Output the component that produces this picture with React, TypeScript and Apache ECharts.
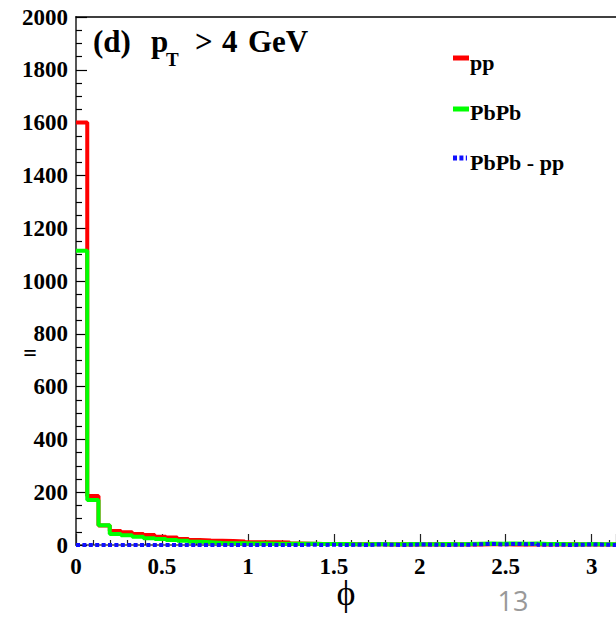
import React, { useEffect, useRef } from "react";
import * as echarts from "echarts";

// Azimuthal distribution, pT > 4 GeV: 48 bins over [0, pi]
const PHI_MAX = Math.PI;
const BIN_COUNT = 48;

const ppCounts = [
  1600, 186, 74, 53, 48, 42, 38, 31, 28, 23, 19, 17, 16, 15, 13, 10, 10, 10, 9, 6,
  5, 4, 4, 4, 3, 3, 3, 2, 3, 2, 2, 3, 2, 2, 3, 2, 3, 3, 2, 3, 2, 2, 2, 3, 2, 2, 2, 2,
];

const pbpbCounts = [
  1115, 170, 75, 42, 37, 31, 26, 23, 19, 16, 12, 10, 8, 7, 7, 6, 6, 5, 5, 5,
  5, 4, 4, 4, 3, 3, 4, 3, 3, 4, 3, 3, 4, 3, 4, 5, 6, 5, 6, 5, 6, 4, 4, 3, 3, 4, 3, 3,
];

// Difference histogram as drawn (negative bins sit on the frame floor)
const diffCounts = [
  0, 0, 0, 0, 0, 0, 0, 0, 0, 0, 0, 0, 0, 0, 0, 0, 0, 0, 0, 0,
  1, 0, 1, 0, 1, 0, 2, 1, 0, 1, 2, 1, 0, 1, 1, 3, 4, 2, 4, 3, 4, 1, 1, 0, 1, 2, 1, 0,
];

const xTickLabels = ["0", "0.5", "1", "1.5", "2", "2.5", "3"];

const SERIF = "Liberation Serif";

// Histogram outline: one point per lower bin edge plus the closing edge
function toSteps(counts: number[]): number[][] {
  const w = PHI_MAX / BIN_COUNT;
  const pts = counts.map((v, i) => [i * w, v]);
  pts.push([PHI_MAX, counts[counts.length - 1]]);
  return pts;
}

export default function App() {
  const ref = useRef<HTMLDivElement>(null);

  useEffect(() => {
    if (!ref.current) return;
    const chart = echarts.init(ref.current, null, { renderer: "svg" });

    const option = {
      animation: false,
      backgroundColor: "#ffffff",
      grid: { left: 76, top: 17, right: -3, bottom: 72, containLabel: false },
      xAxis: [
        {
          type: "value",
          min: 0,
          max: PHI_MAX,
          interval: 0.5,
          axisLine: { show: true, lineStyle: { color: "#444", width: 1.5 } },
          axisTick: { show: true, inside: true, length: 11, lineStyle: { color: "#222", width: 1.2 } },
          minorTick: { show: true, splitNumber: 5, length: 5, lineStyle: { color: "#222", width: 1.2 } },
          splitLine: { show: false },
          axisLabel: {
            showMaxLabel: false,
            margin: 10,
            color: "#000",
            fontFamily: SERIF,
            fontWeight: "bold",
            fontSize: 23,
            formatter: (v: number) => {
              const idx = Math.round(v / 0.5);
              return Math.abs(v - idx * 0.5) < 1e-6 && idx < xTickLabels.length ? xTickLabels[idx] : "";
            },
          },
        },
        {
          type: "value",
          position: "top",
          min: 0,
          max: PHI_MAX,
          axisLine: { show: true, lineStyle: { color: "#000", width: 1.5 } },
          axisTick: { show: false },
          axisLabel: { show: false },
          splitLine: { show: false },
        },
      ],
      yAxis: {
        type: "value",
        min: 0,
        max: 2000,
        interval: 200,
        axisLine: { show: true, lineStyle: { color: "#555", width: 2 } },
        axisTick: { show: true, inside: true, length: 11, lineStyle: { color: "#000", width: 1.2 } },
        minorTick: { show: true, splitNumber: 4, length: 6, lineStyle: { color: "#000", width: 1.2 } },
        splitLine: { show: false },
        axisLabel: {
          margin: 8,
          color: "#000",
          fontFamily: SERIF,
          fontWeight: "bold",
          fontSize: 23,
          formatter: (v: number) => String(v),
        },
      },
      series: [
        {
          name: "pp",
          type: "line",
          step: "end",
          showSymbol: false,
          data: toSteps(ppCounts),
          lineStyle: { color: "#ff0000", width: 4 },
          z: 2,
        },
        {
          name: "PbPb",
          type: "line",
          step: "end",
          showSymbol: false,
          data: toSteps(pbpbCounts),
          lineStyle: { color: "#00ff00", width: 4 },
          z: 3,
        },
        {
          name: "PbPb - pp",
          type: "line",
          step: "end",
          showSymbol: false,
          data: toSteps(diffCounts),
          lineStyle: { color: "#1010ff", width: 4, type: [4, 2.4] },
          z: 4,
        },
      ],
      graphic: [
        // panel label
        { type: "text", x: 93, y: 41, style: { text: "(d)", font: `bold 31px ${SERIF}`, fill: "#000", verticalAlign: "middle" } },
        { type: "text", x: 151, y: 41, style: { text: "p", font: `bold 31px ${SERIF}`, fill: "#000", verticalAlign: "middle" } },
        { type: "text", x: 166, y: 59, style: { text: "T", font: `bold 19px ${SERIF}`, fill: "#000", verticalAlign: "middle", lineHeight: 16 } },
        { type: "text", x: 195, y: 41, style: { text: ">", font: `bold 31px ${SERIF}`, fill: "#000", verticalAlign: "middle" } },
        { type: "text", x: 222, y: 41, style: { text: "4", font: `bold 31px ${SERIF}`, fill: "#000", verticalAlign: "middle" } },
        { type: "text", x: 248, y: 41, style: { text: "GeV", font: `bold 31px ${SERIF}`, fill: "#000", verticalAlign: "middle" } },
        // legend
        { type: "line", shape: { x1: 453, y1: 58, x2: 469, y2: 58 }, style: { stroke: "#ff0000", lineWidth: 5 } },
        { type: "text", x: 470, y: 62, style: { text: "pp", font: `bold 22px ${SERIF}`, fill: "#000", verticalAlign: "middle" } },
        { type: "line", shape: { x1: 453, y1: 109, x2: 469, y2: 109 }, style: { stroke: "#00ff00", lineWidth: 5 } },
        { type: "text", x: 470, y: 112, style: { text: "PbPb", font: `bold 22px ${SERIF}`, fill: "#000", verticalAlign: "middle" } },
        { type: "line", shape: { x1: 453, y1: 158, x2: 467, y2: 158 }, style: { stroke: "#1010ff", lineWidth: 5, lineDash: [4, 2.4] } },
        { type: "text", x: 470, y: 162, style: { text: "PbPb - pp", font: `bold 22px ${SERIF}`, fill: "#000", verticalAlign: "middle" } },
        // axis titles and page number
        { type: "text", x: 30, y: 353, style: { text: "=", font: `bold 24px ${SERIF}`, fill: "#000", align: "center", verticalAlign: "middle", lineHeight: 6 } },
        { type: "text", x: 346, y: 575, style: { text: "ϕ", font: `36px ${SERIF}`, fill: "#000", align: "center", verticalAlign: "top" } },
        { type: "text", x: 513, y: 600, style: { text: "13", font: '27px "Open Sans", sans-serif', fill: "#999", align: "center", verticalAlign: "middle", lineHeight: 20 } },
      ],
    };

    chart.setOption(option);
    return () => chart.dispose();
  }, []);

  return (
    <div
      ref={ref}
      style={{ position: "absolute", left: 0, top: 0, width: 616, height: 617, background: "#fff" }}
    />
  );
}
